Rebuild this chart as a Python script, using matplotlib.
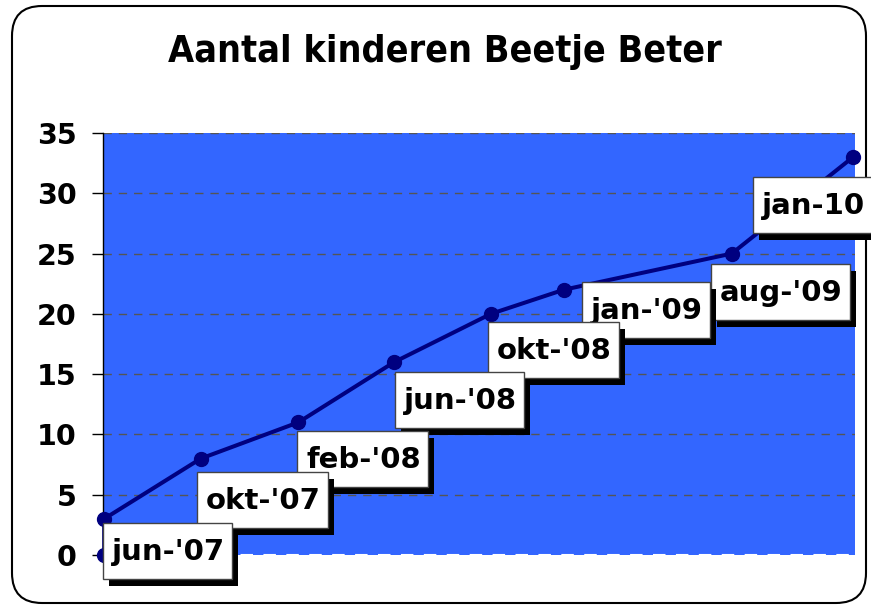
import matplotlib
matplotlib.use('Agg')
import matplotlib.pyplot as plt
import matplotlib.dates as mdates
from matplotlib.patches import FancyBboxPatch, Rectangle
from matplotlib.transforms import IdentityTransform
from datetime import date

# ---- data ----
labels = ["jun-'07", "okt-'07", "feb-'08", "jun-'08", "okt-'08", "jan-'09", "aug-'09", "jan-10"]
dates = [date(2007, 6, 1), date(2007, 10, 1), date(2008, 2, 1), date(2008, 6, 1),
         date(2008, 10, 1), date(2009, 1, 1), date(2009, 8, 1), date(2010, 1, 1)]
values = [3, 8, 11, 16, 20, 22, 25, 33]
start_value = 0
yticks = [0, 5, 10, 15, 20, 25, 30, 35]
title = "Aantal kinderen Beetje Beter"

# ---- label box placement (pixels, relative to the point; y downward) ----
box_left = [-1, -4, -1, 1, -3, 18, -21, -100]
box_top = [4, 13, 9, 10, 8, -8, 10, 20]

W, H = 871, 606
fig = plt.figure(figsize=(W / 100, H / 100), dpi=100)
fig.patch.set_facecolor('white')

ax = fig.add_axes([103 / W, 1 - 555 / H, (855 - 103) / W, (555 - 133) / H])
ax.set_facecolor('#3366FF')

xd = [mdates.date2num(d) for d in dates]
ax.plot([xd[0]] + xd, [start_value] + values, color='#000080', lw=2.9,
        marker='o', ms=10, zorder=5, clip_on=False)

ax.set_xlim(xd[0] - 1.5, xd[-1] + 2.5)
ax.set_ylim(0, 35)
ax.set_yticks(yticks)
ax.set_xticks([])
for s in ['top', 'right', 'bottom']:
    ax.spines[s].set_visible(False)
ax.spines['left'].set_color('black')
ax.spines['left'].set_linewidth(1)
ax.tick_params(axis='y', length=8, width=1, direction='out', pad=11,
               labelsize=20.5)
for t in ax.get_yticklabels():
    t.set_fontweight('bold')

for v in yticks[1:]:
    ax.axhline(v, color='#555555', lw=1, ls=(0, (6, 5)), zorder=1)
ax.axhline(0, color='white', lw=1.5, ls=(0, (6, 5)), zorder=1)

# ---- labels in white boxes with black shadow ----
renderer = fig.canvas.get_renderer()
ident = IdentityTransform()
fs = 21
box_h = 56
for i, (lab, x, y) in enumerate(zip(labels, xd, values)):
    z = 100 - 3 * i
    px, py = ax.transData.transform((x, y))
    left = px + box_left[i]
    top = py - box_top[i]
    t = fig.text(left + 9, top - 37, lab, transform=ident, ha='left', va='baseline',
                 fontsize=fs, fontweight='bold', color='black', zorder=z + 2)
    w = t.get_window_extent(renderer).width
    bw = w + 16
    fig.add_artist(Rectangle((left + 6, top - box_h - 7), bw, box_h, transform=ident,
                             fc='black', ec='black', lw=0, zorder=z))
    fig.add_artist(Rectangle((left, top - box_h), bw, box_h, transform=ident,
                             fc='white', ec='#444444', lw=1, zorder=z + 1))

fig.text(445 / W, 1 - 62 / H, title, ha='center', va='baseline',
         fontsize=27, fontweight='bold', fontstretch='condensed')

border = FancyBboxPatch((12, 3), 854, 597, boxstyle='round,pad=0,rounding_size=30',
                        transform=ident, fc='none', ec='black', lw=1.5, zorder=-1)
fig.patches.append(border)

fig.savefig('out.png', dpi=100)
